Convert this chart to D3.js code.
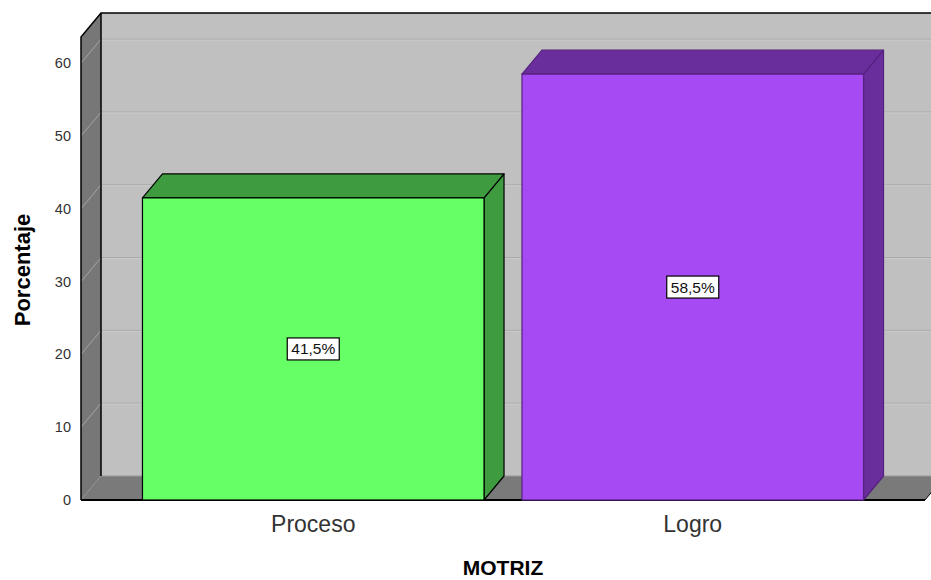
<!DOCTYPE html>
<html><head><meta charset="utf-8">
<script src="https://cdn.jsdelivr.net/npm/d3@7"></script>
<style>body{margin:0;background:#fff}svg{display:block}text{font-family:"Liberation Sans",Arial,sans-serif}</style>
</head><body>
<svg id="chart" width="931" height="580"></svg>
<script>
const categories = ["Proceso", "Logro"];
const values = [41.5, 58.5];
const valueLabels = ["41,5%", "58,5%"];
const yTicks = [0, 10, 20, 30, 40, 50, 60];
const frontColors = ["#66ff66", "#a64af4"];
const sideColors = ["#3f9b3f", "#6a2d9c"];
const edgeColors = ["#000000", "#55227f"];

const svg = d3.select("#chart");
const DX = 20, DY = -24;
const y = d3.scaleLinear().domain([0, 63.6]).range([500, 37]);
const x = d3.scaleBand().domain(categories).range([81, 925]).paddingInner(0.1).paddingOuter(0.162);
const y0 = y(0), yTop = y(63.6);
const xL = x.range()[0], xR = x.range()[1];

// back wall
svg.append("rect").attr("x", xL + DX).attr("y", yTop + DY).attr("width", 931).attr("height", y0 - yTop)
  .attr("fill", "#c0c0c0");
// gridlines back wall
yTicks.forEach(t => {
  if (t === 0) return;
  svg.append("line").attr("x1", xL + DX).attr("x2", 931).attr("y1", y(t) + DY).attr("y2", y(t) + DY)
    .attr("stroke", "#a8a8a8").attr("stroke-width", 1);
  svg.append("line").attr("x1", xL + DX).attr("x2", 931).attr("y1", y(t) + DY + 1).attr("y2", y(t) + DY + 1)
    .attr("stroke", "#cacaca").attr("stroke-width", 1);
});
// left wall
svg.append("polygon").attr("points", [[xL, y0], [xL, yTop], [xL + DX, yTop + DY], [xL + DX, y0 + DY]].join(" "))
  .attr("fill", "#777777");
yTicks.forEach(t => {
  svg.append("line").attr("x1", xL).attr("y1", y(t)).attr("x2", xL + DX).attr("y2", y(t) + DY)
    .attr("stroke", "#a5a5a5").attr("stroke-width", 1);
});
// floor
svg.append("polygon").attr("points", [[xL, y0], [xR, y0], [xR + DX, y0 + DY], [xL + DX, y0 + DY]].join(" "))
  .attr("fill", "#7a7a7a");
svg.append("line").attr("x1", xL + DX).attr("x2", 931).attr("y1", y0 + DY).attr("y2", y0 + DY).attr("stroke", "#999").attr("stroke-width", 1);
// frame edges
svg.append("path").attr("d", `M${xL},${y0}V${yTop}L${xL + DX},${yTop + DY}H931`)
  .attr("fill", "none").attr("stroke", "#000").attr("stroke-width", 1.5);
svg.append("line").attr("x1", xL + DX).attr("x2", xL + DX).attr("y1", yTop + DY).attr("y2", y0 + DY)
  .attr("stroke", "#000").attr("stroke-width", 1.5);
svg.append("line").attr("x1", xL).attr("x2", xR).attr("y1", y0).attr("y2", y0)
  .attr("stroke", "#000").attr("stroke-width", 2);
svg.append("line").attr("x1", xR).attr("x2", xR + DX).attr("y1", y0).attr("y2", y0 + DY)
  .attr("stroke", "#000").attr("stroke-width", 1);

// bars
categories.forEach((c, i) => {
  const bx0 = x(c), bx1 = x(c) + x.bandwidth(), yt = y(values[i]);
  const g = svg.append("g");
  g.append("polygon").attr("points", [[bx1, yt], [bx1 + DX, yt + DY], [bx1 + DX, y0 + DY], [bx1, y0]].join(" "))
    .attr("fill", sideColors[i]).attr("stroke", edgeColors[i]).attr("stroke-width", 1.2).attr("stroke-linejoin", "round");
  g.append("polygon").attr("points", [[bx0, yt], [bx1, yt], [bx1 + DX, yt + DY], [bx0 + DX, yt + DY]].join(" "))
    .attr("fill", sideColors[i]).attr("stroke", edgeColors[i]).attr("stroke-width", 1.2).attr("stroke-linejoin", "round");
  g.append("rect").attr("x", bx0).attr("y", yt).attr("width", x.bandwidth()).attr("height", y0 - yt)
    .attr("fill", frontColors[i]).attr("stroke", edgeColors[i]).attr("stroke-width", 1.2);
  // value label
  const cx = bx0 + x.bandwidth() / 2, cy = y(values[i] / 2);
  g.append("rect").attr("x", cx - 26).attr("y", cy - 11).attr("width", 52).attr("height", 22)
    .attr("fill", "#fff").attr("stroke", "#000").attr("stroke-width", 1.2);
  g.append("text").attr("x", cx).attr("y", cy + 5.5).attr("text-anchor", "middle")
    .attr("font-size", 15.5).attr("fill", "#111").text(valueLabels[i]);
});

// y axis tick labels
yTicks.forEach(t => {
  svg.append("text").attr("x", 71).attr("y", y(t) + 5).attr("text-anchor", "end")
    .attr("font-size", 14.5).attr("fill", "#333").text(t);
});
// x axis labels
categories.forEach(c => {
  svg.append("text").attr("x", x(c) + x.bandwidth() / 2).attr("y", 532).attr("text-anchor", "middle")
    .attr("font-size", 23).attr("fill", "#333").text(c);
});
// titles
svg.append("text").attr("x", 503).attr("y", 575).attr("text-anchor", "middle")
  .attr("font-size", 21).attr("font-weight", "bold").attr("fill", "#000").text("MOTRIZ");
svg.append("text").attr("transform", "translate(30,270) rotate(-90)").attr("text-anchor", "middle")
  .attr("font-size", 22).attr("font-weight", "bold").attr("fill", "#000").text("Porcentaje");
</script>
</body></html>
